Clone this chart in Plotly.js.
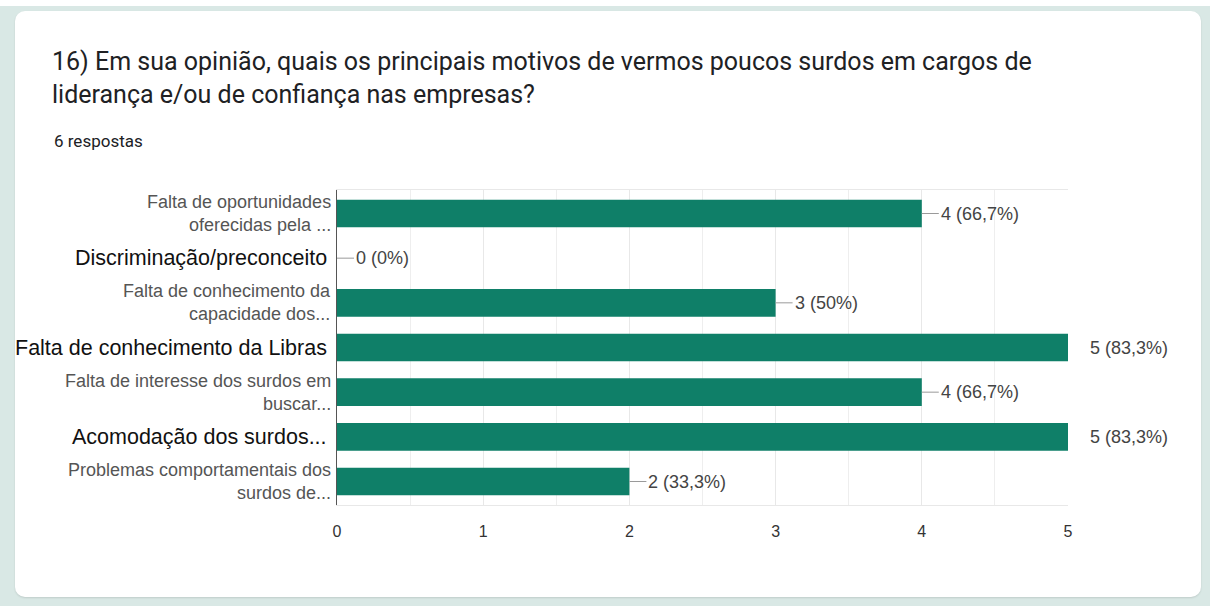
<!DOCTYPE html>
<html>
<head>
<meta charset="utf-8">
<script src="https://cdn.plot.ly/plotly-3.0.1.min.js"></script>
<style>
  html, body { margin: 0; padding: 0; width: 1210px; height: 606px; background: #ffffff; overflow: hidden; }
  #bg { position: absolute; left: 0; top: 6px; width: 1210px; height: 600px; background: #d9e8e5; }
  #card { position: absolute; left: 15px; top: 11px; width: 1186px; height: 586px; background: #ffffff;
          border-radius: 10px; box-shadow: 0 1px 2px rgba(0,0,0,0.12); }
  #chart { position: absolute; left: 0; top: 0; width: 1210px; height: 606px; }
</style>
</head>
<body>
<div id="bg"></div>
<div id="card"></div>
<div id="chart"></div>
<script>
// ---- data ----
const categories = [
  "Falta de oportunidades<br>oferecidas pela ...",
  "Discriminação/preconceito",
  "Falta de conhecimento da<br>capacidade dos...",
  "Falta de conhecimento da Libras",
  "Falta de interesse dos surdos em<br>buscar...",
  "Acomodação dos surdos...",
  "Problemas comportamentais dos<br>surdos de..."
];
const counts = [4, 0, 3, 5, 4, 5, 2];
const totalResponses = 6;
const xTickVals = [0, 1, 2, 3, 4, 5];
const titleText = "16) Em sua opinião, quais os principais motivos de vermos poucos surdos em cargos de<br>liderança e/ou de confiança nas empresas?";
const subtitleText = totalResponses + " respostas";

// ---- build ----
function pctLabel(v) {
  const p = Math.round(v / totalResponses * 1000) / 10;
  let s = (p % 1 === 0) ? String(p) : p.toFixed(1).replace('.', ',');
  return v + " (" + s + "%)";
}
const xMax = Math.max(...counts);

const trace = {
  type: 'bar',
  orientation: 'h',
  x: counts,
  y: categories,
  marker: { color: '#0f7f68' },
  hoverinfo: 'none'
};

const annotations = [];
// category labels
categories.forEach((c, i) => {
  const twoLine = c.indexOf('<br>') >= 0;
  annotations.push({
    xref: 'paper', yref: 'y', x: 0, y: c,
    xanchor: 'right', yanchor: 'middle', align: 'right',
    xshift: twoLine ? -4 : -8, showarrow: false,
    text: c,
    font: twoLine ? { family: 'Liberation Sans, Arial', size: 18, color: '#555555' }
                  : { family: 'Liberation Sans, Arial', size: 21.5, color: '#111111' }
  });
});
// value labels
counts.forEach((v, i) => {
  annotations.push({
    xref: 'x', yref: 'y', x: v, y: categories[i],
    text: pctLabel(v),
    showarrow: true, arrowhead: 0, arrowwidth: 1,
    arrowcolor: v === xMax ? 'rgba(0,0,0,0)' : '#9a9a9a',
    ax: v === xMax ? 20 : 17, ay: 0,
    xanchor: 'left', yanchor: 'middle',
    font: { family: 'Liberation Sans, Arial', size: 18, color: '#444444' }
  });
});
// subtitle
annotations.push({
  xref: 'paper', yref: 'paper', x: (52 - 337) / 731, y: 1 + (190 - 141) / 315,
  xanchor: 'left', yanchor: 'middle', showarrow: false,
  text: subtitleText,
  font: { family: 'Roboto, Arial', size: 17, color: '#202124' }
});
// question title (two lines)
annotations.push({
  xref: 'paper', yref: 'paper', x: (50 - 337) / 731, y: 1 + (190 - 45) / 315,
  xanchor: 'left', yanchor: 'top', align: 'left', showarrow: false,
  text: titleText,
  font: { family: 'Roboto, Arial', size: 25, color: '#202124' }
});

const layout = {
  width: 1210, height: 606,
  paper_bgcolor: 'rgba(0,0,0,0)',
  plot_bgcolor: 'rgba(0,0,0,0)',
  margin: { l: 337, r: 142, t: 190, b: 101 },
  showlegend: false,
  bargap: 0.38,
  xaxis: {
    range: [0, 5],
    tickvals: xTickVals,
    showgrid: true, gridcolor: '#e8e8e8', gridwidth: 1,
    minor: { dtick: 0.5, showgrid: true, gridcolor: '#eeeeee' },
    zeroline: false,
    showline: true, linecolor: '#e8e8e8', mirror: true,
    ticks: '', ticklabelstandoff: 12,
    tickfont: { family: 'Liberation Sans, Arial', size: 16, color: '#333333' },
    fixedrange: true
  },
  yaxis: {
    type: 'category',
    autorange: 'reversed',
    showticklabels: false,
    showgrid: false, zeroline: false,
    showline: true, linecolor: '#555555', linewidth: 1,
    ticks: '',
    fixedrange: true
  },
  annotations: annotations
};

Plotly.newPlot('chart', [trace], layout, { displayModeBar: false, staticPlot: true });
</script>
</body>
</html>
